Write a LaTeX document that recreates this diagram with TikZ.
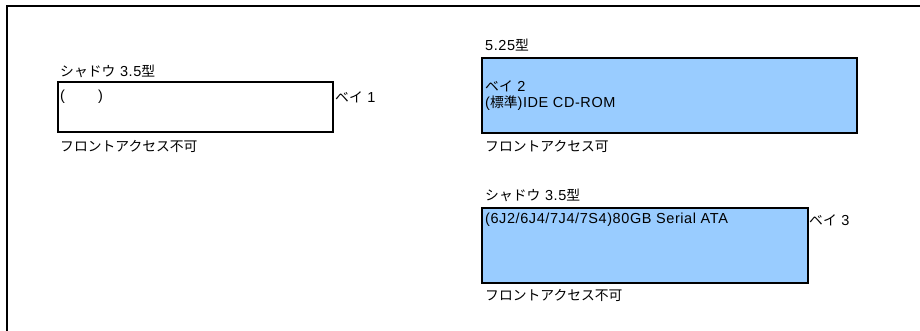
\documentclass[tikz,border=0pt]{standalone}
\usepackage{fontspec}
\setmainfont[LetterSpace=4]{Liberation Sans}
\newfontfamily\jpfont{Noto Sans CJK JP}
\newcommand\J[1]{{\jpfont\fontsize{13.8}{16}\selectfont #1}}
\definecolor{bayblue}{HTML}{99CCFF}
\begin{document}
\begin{tikzpicture}[x=1pt,y=-1pt,
  lbl/.style={anchor=west,inner sep=0pt,font=\fontsize{14.5}{16}\selectfont},
  baybox/.style={draw=black,line width=1.8pt,anchor=north west,inner sep=0pt},
  frameline/.style={line width=2pt}]
\useasboundingbox (0,0) rectangle (920,331);
\draw[frameline] (7,331) -- (7,6.5) -- (920,6.5);
% boxes
\node[baybox,fill=white,minimum width=275pt,minimum height=50pt] (box1) at (57,81) {};
\node[baybox,fill=bayblue,minimum width=375pt,minimum height=75pt] (box2) at (481,57) {};
\node[baybox,fill=bayblue,minimum width=326pt,minimum height=75pt] (box3) at (481,207) {};
% left bay
\node[lbl] (s1) at (60,71) {\J{シャドウ} 3.5\J{型}};
\node[lbl] (b1t) at (60,97) {(\hspace{33pt})};
\node[lbl] (bay1) at (335,97) {\J{ベイ} 1};
\node[lbl] (f1) at (60,146) {\J{フロントアクセス不可}};
% bay 2
\node[lbl] (s2) at (485,45) {5.25\J{型}};
\node[lbl] (bay2) at (485,86) {\J{ベイ} 2};
\node[lbl] (cd) at (485,103) {(\J{標準})IDE CD-ROM};
\node[lbl] (f2) at (485,146) {\J{フロントアクセス可}};
% bay 3
\node[lbl] (s3) at (485,195) {\J{シャドウ} 3.5\J{型}};
\node[lbl] (hd) at (485,220) {(6J2/6J4/7J4/7S4)80GB Serial ATA};
\node[lbl] (bay3) at (809,220) {\J{ベイ} 3};
\node[lbl] (f3) at (485,295) {\J{フロントアクセス不可}};
\end{tikzpicture}
\end{document}
